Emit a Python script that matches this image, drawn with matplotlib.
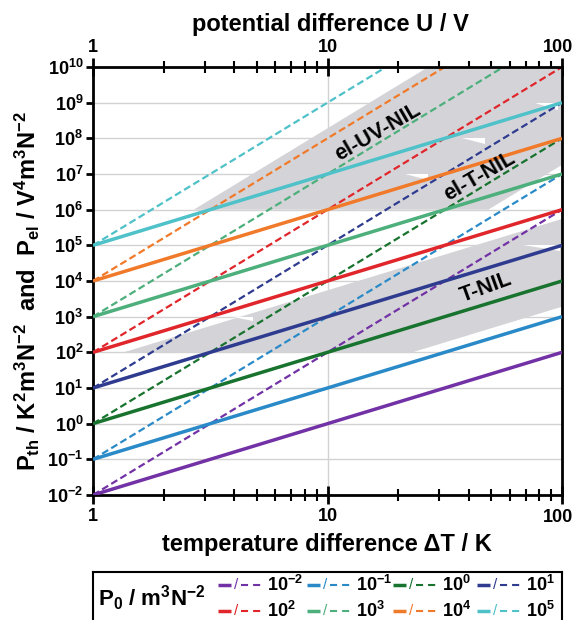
import matplotlib
matplotlib.use("Agg")
import matplotlib.pyplot as plt
from matplotlib.lines import Line2D
from matplotlib.patches import Polygon
from matplotlib.ticker import FixedLocator, NullFormatter, LogLocator

plt.rcParams['font.family'] = ['Liberation Sans', 'DejaVu Sans']
plt.rcParams['font.weight'] = 'bold'
plt.rcParams['mathtext.fontset'] = 'custom'
plt.rcParams['mathtext.rm'] = 'Liberation Sans:bold'
plt.rcParams['mathtext.bf'] = 'Liberation Sans:bold'
plt.rcParams['mathtext.it'] = 'Liberation Sans:bold'
plt.rcParams['mathtext.default'] = 'bf'

# ---- data -------------------------------------------------------------
p0_labels = [r'$10^{-2}$', r'$10^{-1}$', r'$10^{0}$', r'$10^{1}$',
             r'$10^{2}$', r'$10^{3}$', r'$10^{4}$', r'$10^{5}$']
line_colors = ['#7232A6', '#2A8AC8', '#18732E', '#2E3B8F',
               '#E0262B', '#4DAF7C', '#F07A2A', '#4FC1C9']

# thermal power density P_th vs temperature difference (solid lines)
dT_ends = [1, 100]
P_th_at_1 = [1e-2, 1e-1, 1e0, 1e1, 1e2, 1e3, 1e4, 1e5]
P_th_at_100 = [1e2, 1e3, 1e4, 1e5, 1e6, 1e7, 1e8, 1e9]

# electric power density P_el vs potential difference (dashed lines)
U_ends = [1, 100]
P_el_at_1 = [1e-2, 1e-1, 1e0, 1e1, 1e2, 1e3, 1e4, 1e5]
P_el_at_100 = [1e6, 1e7, 1e8, 1e9, 1e10, 1e11, 1e12, 1e13]

# process windows
region_tnil = [(1.35, 1e2), (23, 1e2), (100, 1.9e3), (100, 5.5e5)]
region_el_t = [(11.6, 1e6), (48.5, 1e6), (100, 1.8e7), (100, 5.5e9)]
region_el_uv = [(2.69, 1e6), (13.5, 1e6), (100, 3e9), (100, 1e10), (26.9, 1e10)]
region_names = ['T-NIL', 'el-T-NIL', 'el-UV-NIL']

# thin uncovered slivers where the window strips meet: (x_tip, x_end, y_edge, y_low)
window_gaps = [(21.4, 26.8, 1e7, 6.8e6), (37.5, 47.0, 1e8, 6.8e7),
               (76.7, 96.2, 1e9, 6.4e8), (3.95, 4.8, 1e3, 7.7e2),
               (68.0, 98.0, 1e5, 6.8e4)]

x_ticks = [1, 10, 100]
x_ticklabels = ['1', '10', '']
y_ticks = [10.0 ** e for e in range(-2, 11)]

# ---- figure -----------------------------------------------------------
W, H = 574, 620
fig = plt.figure(figsize=(W / 100, H / 100), dpi=100)
ax = fig.add_axes([93 / W, 1 - 495 / H, (562 - 93) / W, (495 - 67) / H])
ax.set_xscale('log')
ax.set_yscale('log')
ax.set_xlim(1, 100)
ax.set_ylim(1e-2, 1e10)

ax.set_axisbelow(True)
ax.yaxis.grid(True, which='major', color='#D2D2D2', lw=1.0, zorder=0)
ax.axvline(10, color='#D2D2D2', lw=1.0, zorder=0.5)

gray = '#D4D4D8'
for reg in (region_tnil, region_el_t, region_el_uv):
    ax.add_patch(Polygon(reg, closed=True, facecolor=gray, edgecolor='none', zorder=1))
for xt, xe, ye, yl in window_gaps:
    ax.add_patch(Polygon([(xt, ye), (xe, ye), (xe, yl)], closed=True,
                         facecolor='white', edgecolor='none', zorder=1.1))

for i, c in enumerate(line_colors):
    ax.plot(U_ends, [P_el_at_1[i], P_el_at_100[i]], color=c, lw=1.6,
            dashes=(3.2, 1.6), zorder=2, solid_capstyle='butt')
for i, c in enumerate(line_colors):
    ax.plot(dT_ends, [P_th_at_1[i], P_th_at_100[i]], color=c, lw=2.5,
            zorder=3, solid_capstyle='butt')

# region names, placed in figure pixels (from the top-left corner)
for name, (px, py, rot) in zip(region_names, [(486, 288, 20), (480, 176, 30), (378, 132, 30)]):
    fig.text(px / W, 1 - py / H, name, fontsize=15.5, rotation=rot,
             ha='center', va='center', zorder=4)

for sp in ax.spines.values():
    sp.set_linewidth(2.0)

ax.xaxis.set_major_locator(FixedLocator(x_ticks))
ax.set_xticklabels(x_ticklabels)
ax.xaxis.set_minor_locator(LogLocator(base=10, subs=range(2, 10)))
ax.xaxis.set_minor_formatter(NullFormatter())
ax.yaxis.set_major_locator(FixedLocator(y_ticks))
ax.yaxis.set_minor_locator(FixedLocator([]))
ax.tick_params(axis='x', which='major', direction='inout', length=13, width=2,
               labelsize=13, pad=3, top=True)
ax.tick_params(axis='x', which='minor', direction='inout', length=8, width=1.5, top=True)
ax.tick_params(axis='y', which='major', direction='out', length=5, width=2,
               labelsize=13, pad=2)

top = ax.secondary_xaxis('top')
top.xaxis.set_major_locator(FixedLocator(x_ticks))
top.set_xticklabels(x_ticklabels)
top.xaxis.set_minor_locator(FixedLocator([]))
top.tick_params(axis='x', which='major', length=0, labelsize=13, pad=8)
top.spines['top'].set_visible(False)

# right-most decade labels kept inside the canvas
fig.text(558 / W, 1 - 517 / H, '100', fontsize=13, ha='center', va='center')
fig.text(558 / W, 1 - 47 / H, '100', fontsize=13, ha='center', va='center')

fig.text(327 / W, 1 - 545 / H, 'temperature difference \u0394T / K', fontsize=17,
         ha='center', va='center')
fig.text(330 / W, 1 - 24 / H, 'potential difference U / V', fontsize=17,
         ha='center', va='center')
fig.text(27 / W, 1 - 291 / H,
         r'$P_{th}$ / K$^{2}$m$^{3}$N$^{-2}$  and  $P_{el}$ / V$^{4}$m$^{3}$N$^{-2}$',
         fontsize=17, rotation=90, ha='center', va='center')

# ---- legend box -------------------------------------------------------
lax = fig.add_axes([93 / W, 1 - 626 / H, (562 - 93) / W, (626 - 572) / H])
lax.set_xlim(93, 562)
lax.set_ylim(626, 572)
lax.set_xticks([])
lax.set_yticks([])
for sp in lax.spines.values():
    sp.set_linewidth(1.5)

lax.text(98, 598, r'$P_{0}$ / m$^{3}$N$^{-2}$', fontsize=16, ha='left', va='center')
row_y = [585, 611]
col_x = [218, 307, 393, 477]
for i, c in enumerate(line_colors):
    hx = col_x[i % 4]
    hy = row_y[i // 4]
    lax.add_line(Line2D([hx, hx + 13], [hy, hy], color=c, lw=2.5, solid_capstyle='butt'))
    lax.text(hx + 18, hy, '/', color=c, fontsize=11, ha='center', va='center',
             fontweight='normal')
    lax.add_line(Line2D([hx + 23, hx + 43], [hy, hy], color=c, lw=1.5,
                        dashes=(3.4, 2.4)))
    lax.text(hx + 49, hy, p0_labels[i], fontsize=13, ha='left', va='center')

fig.savefig('out.png', dpi=100)
